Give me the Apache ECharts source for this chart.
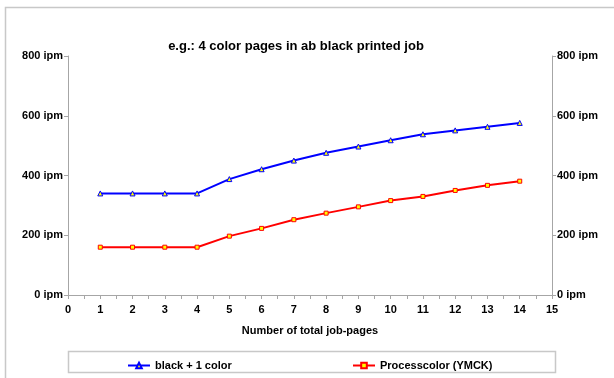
<!DOCTYPE html>
<html>
<head>
<meta charset="utf-8">
<script src="https://cdn.jsdelivr.net/npm/echarts@6/dist/echarts.min.js"></script>
<style>
  html, body { margin: 0; padding: 0; background: #fff; }
  #chart { width: 614px; height: 378px; }
</style>
</head>
<body>
<div id="chart"></div>
<script>
// Job length (pages) vs. throughput in ipm
const pages = [1, 2, 3, 4, 5, 6, 7, 8, 9, 10, 11, 12, 13, 14];
const blackPlusOne = [340, 340, 340, 340, 388, 421, 450, 476, 497, 518, 538, 551, 563, 576];
const processColor = [160, 160, 160, 160, 197, 223, 252, 274, 295, 316, 330, 350, 367, 381];
const seriesNames = ['black + 1 color', 'Processcolor (YMCK)'];
const titleText = 'e.g.: 4 color pages in ab black printed job';
const xAxisName = 'Number of total job-pages';

const font = 'Arial, "Liberation Sans", sans-serif';
const axisGray = '#a6a6a6';

const chart = echarts.init(document.getElementById('chart'), null, { renderer: 'canvas' });

const yAxisCommon = {
  type: 'value',
  min: 0,
  max: 800,
  interval: 200,
  splitLine: { show: false },
  axisLine: { show: true, lineStyle: { color: axisGray, width: 1 } },
  axisTick: { show: true, length: 4, lineStyle: { color: axisGray } },
  axisLabel: {
    color: '#000',
    fontFamily: font,
    fontWeight: 'bold',
    fontSize: 11,
    margin: 5,
    formatter: v => v + ' ipm'
  }
};

const legendText = { fontFamily: font, fontWeight: 'bold', fontSize: 11, color: '#000' };

chart.setOption({
  animation: false,
  backgroundColor: '#fff',
  title: {
    text: titleText,
    left: 291,
    top: 35,
    textAlign: 'center',
    textStyle: { fontFamily: font, fontWeight: 'bold', fontSize: 13, color: '#000' }
  },
  grid: { left: 68, right: 62, top: 56, bottom: 83, containLabel: false },
  legend: [
    {
      data: [seriesNames[0]],
      left: 122,
      top: 355,
      itemWidth: 22,
      itemHeight: 7,
      itemGap: 4,
      textStyle: legendText
    },
    {
      data: [seriesNames[1]],
      left: 347,
      top: 355,
      itemWidth: 22,
      itemHeight: 7,
      itemGap: 4,
      textStyle: legendText
    }
  ],
  xAxis: {
    type: 'value',
    min: 0,
    max: 15,
    interval: 1,
    name: xAxisName,
    nameLocation: 'middle',
    nameGap: 30,
    nameTextStyle: { fontFamily: font, fontWeight: 'bold', fontSize: 11, color: '#000' },
    splitLine: { show: false },
    axisLine: { show: true, onZero: false, lineStyle: { color: axisGray, width: 1 } },
    axisTick: { show: true, length: 4, lineStyle: { color: axisGray } },
    minorTick: { show: true, splitNumber: 2, length: 4, lineStyle: { color: axisGray } },
    axisLabel: { color: '#000', fontFamily: font, fontWeight: 'bold', fontSize: 11, margin: 9 }
  },
  yAxis: [
    Object.assign({}, yAxisCommon, { position: 'left' }),
    Object.assign({}, yAxisCommon, { position: 'right' })
  ],
  series: [
    {
      name: seriesNames[0],
      type: 'line',
      yAxisIndex: 0,
      data: pages.map((p, i) => [p, blackPlusOne[i]]),
      lineStyle: { color: '#0000ff', width: 2 },
      itemStyle: { color: '#ffff00', borderColor: '#0000ff', borderWidth: 1 },
      symbol: 'triangle',
      symbolSize: 5,
      showAllSymbol: true
    },
    {
      name: seriesNames[1],
      type: 'line',
      yAxisIndex: 0,
      data: pages.map((p, i) => [p, processColor[i]]),
      lineStyle: { color: '#ff0000', width: 2 },
      itemStyle: { color: '#ffff00', borderColor: '#ff0000', borderWidth: 1 },
      symbol: 'rect',
      symbolSize: 4,
      showAllSymbol: true
    }
  ],
  graphic: [
    {
      type: 'rect',
      silent: true,
      z: -1,
      shape: { x: 5.5, y: 7.5, width: 900, height: 600 },
      style: { fill: 'none', stroke: '#c8c8c8', lineWidth: 1.5 }
    },
    {
      type: 'rect',
      silent: true,
      shape: { x: 68.5, y: 351.5, width: 487, height: 21 },
      style: { fill: 'none', stroke: '#c8c8c8', lineWidth: 1.5 }
    }
  ]
});
</script>
</body>
</html>
